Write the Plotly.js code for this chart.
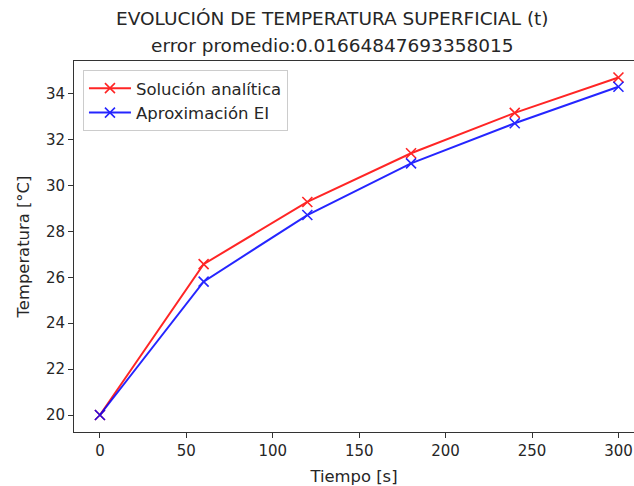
<!DOCTYPE html>
<html>
<head>
<meta charset="utf-8">
<script src="https://cdn.plot.ly/plotly-3.0.1.min.js"></script>
<style>html,body{margin:0;padding:0;background:#fff;}</style>
</head>
<body>
<div id="chart" style="width:634px;height:486px;"></div>
<script>
const tiempo = [0, 60, 120, 180, 240, 300];
const analitica = [20.0, 26.57, 29.28, 31.40, 33.16, 34.70];
const aproximacion = [20.0, 25.81, 28.71, 30.96, 32.71, 34.30];
const titulo1 = "EVOLUCIÓN DE TEMPERATURA SUPERFICIAL (t)";
const titulo2 = "error promedio:0.01664847693358015";

const font = "DejaVu Sans, sans-serif";
const mk = (c) => ({symbol: "x-thin-open", size: 10, color: c, line: {color: c, width: 1.6}});

const traces = [
  {x: tiempo, y: analitica, name: "Solución analítica", mode: "lines+markers",
   line: {color: "red", width: 2}, marker: mk("red"), opacity: 0.85},
  {x: tiempo, y: aproximacion, name: "Aproximación EI", mode: "lines+markers",
   line: {color: "blue", width: 2}, marker: mk("blue"), opacity: 0.85}
];

const axisCommon = {
  showgrid: false, zeroline: false, showline: true, linecolor: "#333", linewidth: 1,
  ticks: "outside", ticklen: 5, tickwidth: 1, tickcolor: "#333",
  tickfont: {family: font, size: 15, color: "#262626"}
};

const layout = {
  width: 634, height: 486,
  margin: {l: 74, r: 0, t: 61, b: 54},
  paper_bgcolor: "#fff", plot_bgcolor: "#fff",
  font: {family: font, color: "#262626"},
  showlegend: true,
  legend: {x: 0.016, y: 0.976, xanchor: "left", yanchor: "top", itemwidth: 42,
    bgcolor: "rgba(255,255,255,0.8)", bordercolor: "#cccccc", borderwidth: 1,
    font: {family: font, size: 16.5, color: "#262626"}},
  xaxis: Object.assign({}, axisCommon, {range: [-15, 309], dtick: 50, tick0: 0, mirror: true,
    title: {text: "Tiempo [s]", font: {family: font, size: 16.4, color: "#262626"}, standoff: 12}}),
  yaxis: Object.assign({}, axisCommon, {range: [19.26, 35.42], dtick: 2, tick0: 20,
    title: {text: "Temperatura [°C]", font: {family: font, size: 16.4, color: "#262626"}, standoff: 12}}),
  annotations: [
    {xref: "paper", yref: "paper", x: (332 - 74) / 560, y: 1, yshift: 43, text: titulo1, showarrow: false,
     font: {family: font, size: 18.5, color: "#262626"}, xanchor: "center", yanchor: "middle"},
    {xref: "paper", yref: "paper", x: (332 - 74) / 560, y: 1, yshift: 16, text: titulo2, showarrow: false,
     font: {family: font, size: 18.5, color: "#262626"}, xanchor: "center", yanchor: "middle"}
  ]
};

Plotly.newPlot("chart", traces, layout, {displayModeBar: false, staticPlot: true});
</script>
</body>
</html>
